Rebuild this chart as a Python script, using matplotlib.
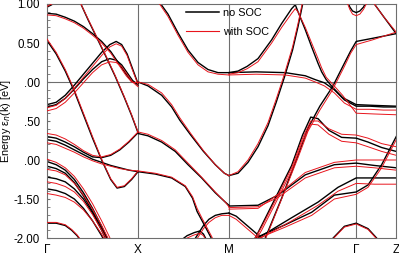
import matplotlib
matplotlib.use('Agg')
import matplotlib.pyplot as plt
from matplotlib.ticker import MultipleLocator

plt.rcParams['font.family'] = ['Liberation Sans', 'DejaVu Sans']

# high-symmetry points along the path
sym_k = [0.0, 1.0, 2.0, 3.4, 3.84]
sym_labels = ['Γ', 'X', 'M', 'Γ', 'Z']
y_ticks = [1.0, 0.5, 0.0, -0.5, -1.0, -1.5, -2.0]
y_tick_labels = ['1.00', '0.50', '.00', '.50', '.00', '-1.50', '-2.00']

# ---- Gamma - X ----
gx1_k = [0, 0.05, 0.1]
gx1_e = [0.96, 0.99, 1.03]
gx1_soc = [0.97, 1.0, 1.04]

gx2_k = [0, 0.1, 0.2, 0.3, 0.4, 0.5, 0.6, 0.7, 0.8, 0.87, 0.93, 1.0]
gx2_e = [0.88, 0.87, 0.83, 0.78, 0.71, 0.62, 0.52, 0.39, 0.22, 0.1, 0.01, -0.02]
gx2_soc = [0.86, 0.85, 0.81, 0.76, 0.69, 0.6, 0.5, 0.37, 0.2, 0.08, 0.0, -0.01]

gx3_k = [0, 0.1, 0.2, 0.3, 0.4, 0.5, 0.6, 0.7, 0.77, 0.85, 0.93, 1.0]
gx3_e = [0.53, 0.36, 0.14, -0.12, -0.42, -0.72, -1.0, -1.25, -1.36, -1.34, -1.25, -1.15]
gx3_soc = [0.55, 0.38, 0.16, -0.1, -0.4, -0.7, -0.99, -1.24, -1.35, -1.33, -1.24, -1.14]

gx4_k = [0, 0.1, 0.2, 0.3, 0.4, 0.5, 0.6, 0.69, 0.76, 0.82, 0.88, 0.94, 1.0]
gx4_e = [-0.29, -0.26, -0.17, -0.04, 0.1, 0.24, 0.38, 0.48, 0.52, 0.48, 0.36, 0.17, -0.02]
gx4_soc = [-0.33, -0.3, -0.21, -0.08, 0.06, 0.2, 0.34, 0.45, 0.49, 0.46, 0.34, 0.15, -0.03]
gx5_e = [-0.32, -0.29, -0.21, -0.09, 0.04, 0.16, 0.26, 0.3, 0.28, 0.22, 0.12, 0.02, -0.04]
gx5_soc = [-0.37, -0.34, -0.26, -0.14, -0.01, 0.12, 0.22, 0.26, 0.25, 0.2, 0.1, 0.0, -0.06]

gx6_k = [0.36, 0.45, 0.55, 0.65, 0.75, 0.85, 0.93, 1.0]
gx6_e = [1.03, 0.8, 0.56, 0.32, 0.07, -0.2, -0.43, -0.65]
gx6_soc = [1.03, 0.81, 0.57, 0.33, 0.08, -0.19, -0.42, -0.64]

gx7_k = [0, 0.1, 0.2, 0.3, 0.4, 0.5, 0.6, 0.7, 0.8, 0.9, 1.0]
gx7_e = [-0.70, -0.72, -0.77, -0.83, -0.9, -0.96, -0.97, -0.94, -0.87, -0.77, -0.65]
gx7_soc = [-0.66, -0.68, -0.73, -0.8, -0.88, -0.94, -0.96, -0.93, -0.86, -0.76, -0.64]
gx8_e = [-0.74, -0.76, -0.81, -0.87, -0.93, -0.99, -1.03, -1.07, -1.1, -1.13, -1.15]
gx8_soc = [-0.78, -0.8, -0.85, -0.9, -0.96, -1.01, -1.05, -1.08, -1.11, -1.13, -1.14]

gx9_k = [0, 0.1, 0.2, 0.3, 0.4, 0.5, 0.6, 0.7, 0.78]
gx9_e = [-1.02, -1.06, -1.13, -1.25, -1.42, -1.62, -1.85, -2.1, -2.3]
gx9_soc = [-0.99, -1.03, -1.1, -1.21, -1.37, -1.56, -1.78, -2.02, -2.22]
gx10_e = [-1.08, -1.11, -1.17, -1.29, -1.46, -1.66, -1.88, -2.12, -2.3]
gx10_soc = [-1.12, -1.14, -1.19, -1.3, -1.45, -1.63, -1.84, -2.07, -2.26]
gx11_e = [-1.22, -1.24, -1.28, -1.37, -1.5, -1.68, -1.9, -2.14, -2.3]
gx11_soc = [-1.28, -1.3, -1.34, -1.41, -1.53, -1.7, -1.9, -2.12, -2.3]
gx12_e = [-1.37, -1.39, -1.43, -1.5, -1.62, -1.78, -1.97, -2.2, -2.4]
gx12_soc = [-1.43, -1.45, -1.48, -1.54, -1.64, -1.78, -1.95, -2.15, -2.35]

gx13_k = [0, 0.1, 0.2, 0.27, 0.33, 0.38]
gx13_e = [-1.81, -1.81, -1.84, -1.9, -1.97, -2.05]
gx13_soc = [-1.8, -1.8, -1.83, -1.89, -1.96, -2.04]

# ---- X - M ----
xm1_k = [1.12, 1.22, 1.33, 1.44, 1.55, 1.66, 1.77, 1.88, 2.0]
xm1_e = [1.25, 1.05, 0.87, 0.63, 0.41, 0.25, 0.16, 0.12, 0.12]
xm1_soc = [1.25, 1.03, 0.84, 0.6, 0.38, 0.22, 0.13, 0.1, 0.09]

xm2_k = [1.0, 1.11, 1.26, 1.37, 1.46, 1.58, 1.72, 1.85, 1.95, 2.0]
xm2_e = [0.0, -0.05, -0.17, -0.32, -0.49, -0.68, -0.89, -1.06, -1.17, -1.2]
xm2_soc = [0.0, -0.03, -0.14, -0.29, -0.46, -0.66, -0.88, -1.06, -1.17, -1.2]

xm3_k = [1.0, 1.11, 1.26, 1.41, 1.55, 1.7, 1.85, 1.96, 2.0]
xm3_e = [-0.66, -0.69, -0.77, -0.89, -1.06, -1.23, -1.42, -1.54, -1.58]
xm3_soc = [-0.64, -0.67, -0.75, -0.87, -1.04, -1.22, -1.41, -1.54, -1.6]

xm4_k = [1.0, 1.19, 1.37, 1.52, 1.6, 1.65, 1.71, 1.76, 1.81, 1.85]
xm4_e = [-1.15, -1.18, -1.23, -1.34, -1.49, -1.66, -1.79, -1.9, -2.01, -2.1]
xm4_soc = [-1.14, -1.17, -1.22, -1.33, -1.47, -1.62, -1.76, -1.87, -1.98, -2.08]

xm5_k = [1.6, 1.66, 1.72, 1.78, 1.85, 1.92, 2.0]
xm5_e = [-2.06, -1.95, -1.84, -1.76, -1.71, -1.69, -1.68]
xm5_soc = [-2.1, -1.99, -1.88, -1.8, -1.74, -1.71, -1.71]

xm6_k = [1.46, 1.54, 1.62, 1.68, 1.72, 1.76]
xm6_e = [-2.04, -1.97, -1.93, -1.91, -1.95, -2.04]
xm6_soc = [-2.06, -2.0, -1.96, -1.94, -1.97, -2.06]

# ---- M - Gamma - Z ----
mg1_k = [2.0, 2.3, 2.62, 2.84, 2.95, 3.05, 3.16, 3.27, 3.4, 3.55, 3.7, 3.84]
mg1_e = [0.12, 0.13, 0.12, 0.08, 0.03, -0.01, -0.1, -0.23, -0.31, -0.31, -0.32, -0.32]
mg1_soc = [0.09, 0.1, 0.09, 0.05, 0.0, -0.05, -0.14, -0.27, -0.35, -0.35, -0.36, -0.36]

mg2_k = [2.0, 2.1, 2.2, 2.32, 2.47, 2.58, 2.69, 2.73, 2.76, 2.84, 2.91, 2.98, 3.02,
         3.07, 3.15, 3.25, 3.4, 3.6, 3.84]
mg2_e = [0.12, 0.14, 0.2, 0.3, 0.54, 0.75, 0.94, 0.99, 0.9, 0.67, 0.45, 0.24, 0.13,
         0.03, -0.08, -0.2, -0.29, -0.3, -0.31]
mg2_soc = [0.1, 0.12, 0.17, 0.26, 0.5, 0.7, 0.88, 0.94, 0.9, 0.7, 0.5, 0.3, 0.18,
           0.06, -0.04, -0.17, -0.4, -0.41, -0.42]

mg3_k = [2.0, 2.1, 2.21, 2.32, 2.43, 2.52, 2.61, 2.7, 2.76, 2.82]
mg3_e = [-1.2, -1.17, -1.03, -0.83, -0.56, -0.26, 0.06, 0.41, 0.71, 1.05]
mg3_soc = [-1.2, -1.15, -1.0, -0.79, -0.52, -0.22, 0.1, 0.45, 0.75, 1.08]

mg4_k = [2.37, 2.4, 2.58, 2.76, 2.87, 3.0, 3.14, 3.27, 3.34, 3.4, 3.58, 3.84]
mg4_e = [-2.1, -2.0, -1.49, -0.94, -0.59, -0.31, -0.06, 0.24, 0.4, 0.52, 0.56, 0.62]
mg4_soc = [-2.12, -2.02, -1.5, -0.97, -0.63, -0.36, -0.1, 0.2, 0.37, 0.48, 0.54, 0.64]

mg5_k = [2.29, 2.36, 2.51, 2.69, 2.81, 2.9, 2.98, 3.1, 3.24, 3.4, 3.53, 3.68, 3.84]
mg5_e = [-2.0, -1.84, -1.49, -1.07, -0.68, -0.45, -0.47, -0.62, -0.71, -0.72, -0.77, -0.84, -0.89]
mg5_soc = [-2.0, -1.86, -1.52, -1.1, -0.72, -0.5, -0.5, -0.6, -0.67, -0.68, -0.72, -0.79, -0.83]
mg5_soc2 = [-2.04, -1.9, -1.56, -1.14, -0.76, -0.54, -0.55, -0.67, -0.76, -0.78, -0.83, -0.89, -0.94]

mg6_k = [2.0, 2.32, 2.54, 2.84, 3.16, 3.4, 3.6, 3.84]
mg6_e = [-1.59, -1.58, -1.45, -1.19, -1.06, -1.04, -1.07, -1.1]
mg6_soc = [-1.61, -1.6, -1.48, -1.23, -1.1, -1.08, -1.1, -1.13]
mg6_soc2 = [-1.63, -1.62, -1.44, -1.16, -1.03, -1.0, -1.0, -1.0]

mg7_k = [2.3, 2.32, 2.69, 2.98, 3.2, 3.4, 3.6, 3.84]
mg7_e = [-2.02, -2.0, -1.74, -1.54, -1.35, -1.23, -1.23, -1.23]
mg7_soc = [-2.04, -2.02, -1.78, -1.58, -1.4, -1.3, -1.31, -1.31]

mg8_k = [2.27, 2.29, 2.62, 2.91, 3.16, 3.4, 3.53, 3.68, 3.84]
mg8_e = [-2.02, -2.0, -1.83, -1.67, -1.45, -1.41, -1.32, -1.06, -0.7]
mg8_soc = [-2.04, -2.02, -1.86, -1.71, -1.5, -1.44, -1.35, -1.1, -0.74]

mg9_k = [2.0, 2.08, 2.16, 2.24, 2.32, 2.4]
mg9_e = [-1.68, -1.72, -1.8, -1.88, -1.96, -2.05]
mg9_soc = [-1.71, -1.76, -1.84, -1.92, -2.0, -2.09]

mg10_k = [3.13, 3.27, 3.4, 3.53, 3.64]
mg10_e = [-2.02, -1.85, -1.81, -1.88, -2.02]
mg10_soc = [-2.03, -1.86, -1.82, -1.89, -2.03]

mg11_k = [3.3, 3.33, 3.36, 3.4, 3.44, 3.48, 3.52]
mg11_e = [1.05, 0.96, 0.91, 0.89, 0.91, 0.96, 1.05]
mg11_soc = [1.02, 0.93, 0.87, 0.85, 0.87, 0.93, 1.02]

gz1_k = [3.55, 3.6, 3.7, 3.77, 3.84]
gz1_e = [1.08, 1.0, 0.84, 0.73, 0.62]
gz1_soc = [1.08, 1.0, 0.84, 0.74, 0.64]

bands = [
    (gx1_k, gx1_e, [gx1_soc]),
    (gx2_k, gx2_e, [gx2_soc]),
    (gx3_k, gx3_e, [gx3_soc]),
    (gx4_k, gx4_e, [gx4_soc]),
    (gx4_k, gx5_e, [gx5_soc]),
    (gx6_k, gx6_e, [gx6_soc]),
    (gx7_k, gx7_e, [gx7_soc]),
    (gx7_k, gx8_e, [gx8_soc]),
    (gx9_k, gx9_e, [gx9_soc]),
    (gx9_k, gx10_e, [gx10_soc]),
    (gx9_k, gx11_e, [gx11_soc]),
    (gx9_k, gx12_e, [gx12_soc]),
    (gx13_k, gx13_e, [gx13_soc]),
    (xm1_k, xm1_e, [xm1_soc]),
    (xm2_k, xm2_e, [xm2_soc]),
    (xm3_k, xm3_e, [xm3_soc]),
    (xm4_k, xm4_e, [xm4_soc]),
    (xm5_k, xm5_e, [xm5_soc]),
    (xm6_k, xm6_e, [xm6_soc]),
    (mg1_k, mg1_e, [mg1_soc]),
    (mg2_k, mg2_e, [mg2_soc]),
    (mg3_k, mg3_e, [mg3_soc]),
    (mg4_k, mg4_e, [mg4_soc]),
    (mg5_k, mg5_e, [mg5_soc, mg5_soc2]),
    (mg6_k, mg6_e, [mg6_soc, mg6_soc2]),
    (mg7_k, mg7_e, [mg7_soc]),
    (mg8_k, mg8_e, [mg8_soc]),
    (mg9_k, mg9_e, [mg9_soc]),
    (mg10_k, mg10_e, [mg10_soc]),
    (mg11_k, mg11_e, [mg11_soc]),
    (gz1_k, gz1_e, [gz1_soc]),
]

fig = plt.figure(figsize=(3.99, 2.58), dpi=100)
ax = fig.add_axes([0.118, 0.0775, 0.875, 0.907])

grey = '#6e6e6e'
for xk in sym_k[1:-1]:
    ax.axvline(xk, color=grey, lw=0.8, zorder=1)
ax.axhline(0.0, color=grey, lw=0.8, zorder=1)

for k, e, socs in bands:
    ax.plot(k, e, color='black', lw=1.0, zorder=2)
for k, e, socs in bands:
    for s in socs:
        ax.plot(k, s, color='#e8141c', lw=0.7, zorder=3)

# legend handles
ax.plot([], [], color='black', lw=1.1, label='no SOC')
ax.plot([], [], color='#e8141c', lw=0.8, label='with SOC')
ax.legend(loc='upper left', bbox_to_anchor=(0.37, 1.025), frameon=False,
          fontsize=7.8, handlelength=3.0, labelspacing=0.85, handletextpad=0.4)

ax.set_xlim(sym_k[0], sym_k[-1])
ax.set_ylim(-2.0, 1.0)
ax.set_xticks(sym_k)
ax.set_xticklabels(sym_labels, fontsize=8.5)
ax.set_yticks(y_ticks)
ax.set_yticklabels(y_tick_labels, fontsize=8.3)
ax.yaxis.set_minor_locator(MultipleLocator(0.1))
ax.tick_params(axis='x', length=0, pad=4)
ax.tick_params(axis='y', which='both', direction='in', length=2.5, pad=5, color=grey)
ax.set_ylabel('Energy ε$_n$(k) [eV]', fontsize=7.8)
ax.yaxis.set_label_coords(-0.097, 0.5)
for sp in ax.spines.values():
    sp.set_color(grey)
    sp.set_linewidth(0.8)

fig.savefig('out.png', dpi=100)
